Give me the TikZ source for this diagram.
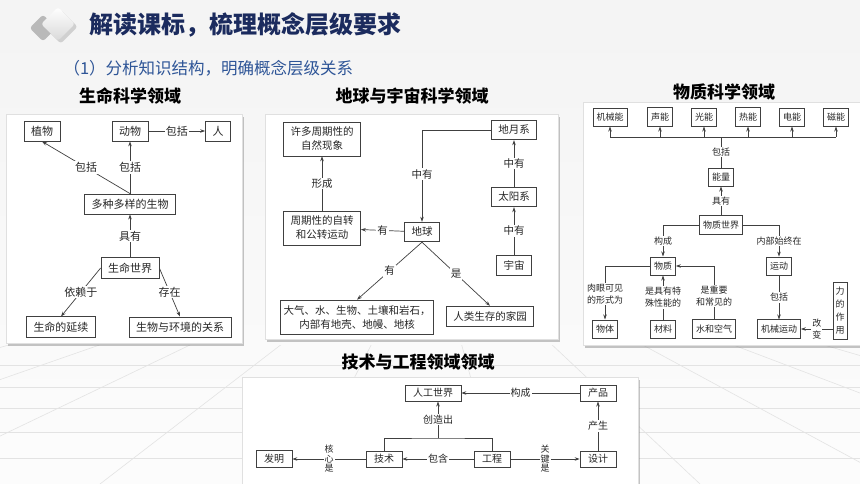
\documentclass[tikz,border=0pt]{standalone}
\usepackage{fontspec}
\setmainfont{Noto Sans CJK SC}
\usetikzlibrary{arrows.meta,shadows,positioning}
\definecolor{titleblue}{HTML}{1B2B5E}
\definecolor{subblue}{HTML}{2E5597}
\tikzset{
  box/.style={draw=black!75,line width=0.7pt,fill=white,inner xsep=7pt,inner ysep=5pt,text=black!85,font=\fontsize{11}{14}\selectfont,align=center},
  lbl/.style={fill=white,inner sep=1pt,text=black!85,font=\fontsize{11}{13}\selectfont,align=center},
  link/.style={draw=black!75,line width=0.7pt},
  arr/.style={link,-{Stealth[length=5pt,width=3.5pt]}},
  panel/.style={fill=white,draw=black!12,drop shadow={opacity=0.45,shadow xshift=2pt,shadow yshift=-3pt}},
  head/.style={font=\fontsize{17}{20}\selectfont\bfseries}
}
\begin{document}
\begin{tikzpicture}[x=1pt,y=-1pt]
  \useasboundingbox (0,0) rectangle (860,484);
  \fill[top color=gray!9,bottom color=gray!2] (0,0) rectangle (860,484);
  \begin{scope}
    \clip (0,345) rectangle (860,484);
    \foreach \y in {365,387,408,432,458} \draw[gray!22,line width=0.6pt] (0,\y) -- (860,\y);
    \foreach \x in {-900,-700,...,1700} \draw[gray!22,line width=0.6pt] (430,230) -- (\x,484);
  \end{scope}
  \node[fill=gray!55,rotate=45,rounded corners=3pt,minimum size=19pt] (ic1) at (43,28) {};
  \node[top color=white,bottom color=gray!30,rotate=45,rounded corners=3pt,minimum size=24pt,drop shadow={opacity=0.3}] (ic2) at (58,24) {};
  \node[anchor=west,text=titleblue,font=\fontsize{24}{28}\selectfont\bfseries] (title) at (86,25) {解读课标，梳理概念层级要求};
  \node[anchor=west,text=subblue,font=\fontsize{16.5}{20}\selectfont] (sub) at (60,68) {（1）分析知识结构，明确概念层级关系};
  \fill[panel] (6,114) rectangle (242,343);
  \fill[panel] (265,114) rectangle (558,339);
  \fill[panel] (583,102) rectangle (870,345);
  \fill[panel] (242,377) rectangle (638,495);
  \node[head] (h1) at (130,96) {生命科学领域};
  \node[head] (h2) at (412,96) {地球与宇宙科学领域};
  \node[head] (h3) at (724,92) {物质科学领域};
  \node[head] (h4) at (418,362) {技术与工程领域领域};

  \node[box] (zw) at (42,131) {植物};
  \node[box] (dw) at (130,131) {动物};
  \node[box] (ren) at (218,131) {人};
  \node[box] (dy) at (130,204) {多种多样的生物};
  \node[box] (smsj) at (130,268) {生命世界};
  \node[box] (yx) at (61,327) {生命的延续};
  \node[box] (hj) at (180,327) {生物与环境的关系};
  \draw[arr] (dw) -- node[lbl]{包括} (ren);
  \draw[arr] (dy.north) -- node[lbl]{包括} (zw.south);
  \draw[arr] (dy) -- node[lbl]{包括} (dw);
  \draw[arr] (smsj) -- node[lbl]{具有} (dy);
  \draw[arr] (smsj.west) -- node[lbl]{依赖于} (yx.north);
  \draw[arr] (smsj.east) -- node[lbl]{存在} (hj.north);

  \begin{scope}[box/.append style={font=\fontsize{10.5}{14}\selectfont},lbl/.append style={font=\fontsize{10.5}{13}\selectfont}]
  \node[box] (xd) at (322,139) {许多周期性的\\自然现象};
  \node[box] (zz) at (322,228) {周期性的自转\\和公转运动};
  \node[box] (dq) at (422,232) {地球};
  \node[box] (dyx) at (514,130) {地月系};
  \node[box] (tyx) at (514,197) {太阳系};
  \node[box] (yz) at (514,265) {宇宙};
  \node[box,inner xsep=3pt] (dqs) at (357,317) {大气、水、生物、土壤和岩石，\\内部有地壳、地幔、地核};
  \node[box] (jy) at (490,316) {人类生存的家园};
  \draw[arr] (zz) -- node[lbl]{形成} (xd);
  \draw[arr] (dq) -- node[lbl]{有} (zz);
  \draw[arr] (dyx.west) -| node[lbl,pos=0.74]{中有} (dq.north);
  \draw[arr] (yz) -- node[lbl]{中有} (tyx);
  \draw[arr] (tyx) -- node[lbl]{中有} (dyx);
  \draw[arr] (dq.south) -- node[lbl]{有} (dqs.north);
  \draw[arr] (dq.south) -- node[lbl]{是} (jy.north);
  \end{scope}

  \begin{scope}[box/.append style={font=\fontsize{9}{13}\selectfont,inner xsep=3.5pt},lbl/.append style={font=\fontsize{9}{12}\selectfont}]
  \node[box] (jx) at (610,117) {机械能};
  \node[box] (sn) at (660,117) {声能};
  \node[box] (gn) at (704,117) {光能};
  \node[box] (rn) at (748,117) {热能};
  \node[box] (dn) at (792,117) {电能};
  \node[box] (cn) at (836,117) {磁能};
  \node[box] (nl) at (721,177) {能量};
  \node[box] (wsj) at (721,225) {物质世界};
  \node[box] (wz) at (663,266) {物质};
  \node[box] (yd) at (779,266) {运动};
  \node[box] (wt) at (605,329) {物体};
  \node[box] (cl) at (663,329) {材料};
  \node[box] (sk) at (714,329) {水和空气};
  \node[box] (jxyd) at (779,329) {机械运动};
  \node[box,inner xsep=2.5pt] (ll) at (840,311) {力\\的\\作\\用};
  \coordinate (bus) at (721,137);
  \draw[link] (jx.south |- bus) -- (cn.south |- bus);
  \foreach \n in {jx,sn,gn,rn,dn,cn} \draw[arr] (\n.south |- bus) -- (\n.south);
  \draw[link] (nl) -- node[lbl]{包括} (bus);
  \draw[arr] (wsj) -- node[lbl]{具有} (nl);
  \draw[arr] (wsj.west) -| node[lbl,pos=0.75]{构成} (wz.north);
  \draw[arr] (wsj.east) -| node[lbl,pos=0.75]{内部始终在} (yd.north);
  \draw[arr] (yd) -- node[lbl]{包括} (jxyd);
  \draw[arr] (wz.west) -| node[lbl,pos=0.76]{肉眼可见\\的形式为} (wt.north);
  \draw[arr] (cl) -- node[lbl]{是具有特\\殊性能的} (wz);
  \draw[arr] (sk.north) |- node[lbl,pos=0.22]{是重要\\和常见的} (wz.east);
  \draw[arr] (ll.west |- jxyd.east) -- node[lbl]{改\\变} (jxyd.east);
  \end{scope}

  \begin{scope}[box/.append style={font=\fontsize{10}{13}\selectfont,inner xsep=8pt,inner ysep=3.5pt},lbl/.append style={font=\fontsize{10}{12}\selectfont}]
  \node[box] (rg) at (433,393) {人工世界};
  \node[box] (cp) at (598,393) {产品};
  \node[box] (js) at (384,459) {技术};
  \node[box] (gc) at (492,459) {工程};
  \node[box] (fm) at (274,459) {发明};
  \node[box] (sj) at (598,459) {设计};
  \coordinate (br) at (438,438);
  \draw[arr] (cp) -- node[lbl]{构成} (rg);
  \draw[arr] (sj) -- node[lbl]{产生} (cp);
  \draw[link] (js.north) |- (br) -| (gc.north);
  \draw[arr] (br) -- node[lbl]{创造出} (br |- rg.south);
  \draw[arr] (gc) -- node[lbl]{包含} (js);
  \draw[arr] (js) -- node[lbl,font=\fontsize{9}{9.5}\selectfont]{核\\心\\是} (fm);
  \draw[arr] (gc) -- node[lbl,font=\fontsize{9}{9.5}\selectfont]{关\\键\\是} (sj);
  \end{scope}
\end{tikzpicture}
\end{document}
